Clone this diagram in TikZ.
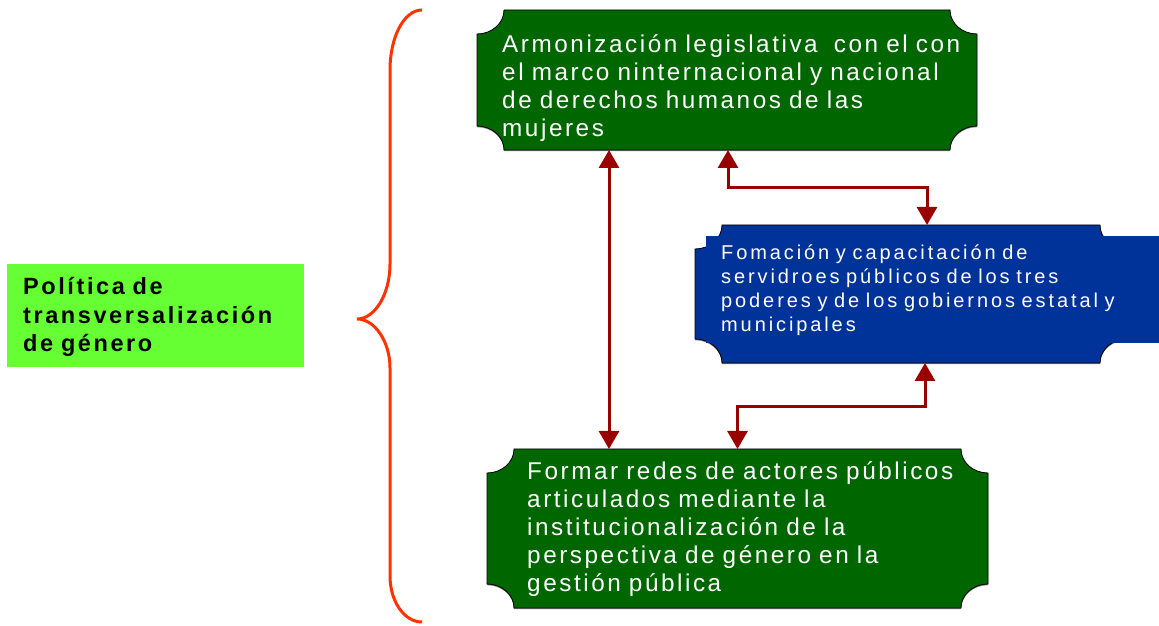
\documentclass[tikz,border=0pt]{standalone}
\usepackage{fontspec}
\usetikzlibrary{arrows.meta}
\setmainfont{Liberation Sans}
\newfontfamily\boxfont{Liberation Sans}[LetterSpace=10.5, WordSpace=1.4]
\newfontfamily\blueboxfont{Liberation Sans}[LetterSpace=14.5, WordSpace=1.4]
\newfontfamily\labelfont{Liberation Sans}[LetterSpace=11, WordSpace=1.4]

\definecolor{boxgreen}{HTML}{006600}
\definecolor{boxblue}{HTML}{003399}
\definecolor{labelgreen}{HTML}{66FF33}
\definecolor{bracered}{HTML}{FF3300}
\definecolor{arrowred}{HTML}{990000}

% plaque outline with concave corners round a named node
\newcommand{\plaquerx}{27pt}
\newcommand{\plaquery}{24pt}
\newcommand{\plaquepath}[1]{%
  ([xshift=\plaquerx]#1.north west) -- ([xshift=-\plaquerx]#1.north east)
  arc[start angle=180, end angle=270, x radius=\plaquerx, y radius=\plaquery]
  -- ([yshift=\plaquery]#1.south east)
  arc[start angle=90, end angle=180, x radius=\plaquerx, y radius=\plaquery]
  -- ([xshift=\plaquerx]#1.south west)
  arc[start angle=0, end angle=90, x radius=\plaquerx, y radius=\plaquery]
  -- ([yshift=-\plaquery]#1.north west)
  arc[start angle=270, end angle=360, x radius=\plaquerx, y radius=\plaquery]
  -- cycle}

\tikzset{
  boxnode/.style={rectangle, inner sep=0pt, outer sep=0pt},
  boxtext/.style={text=white, align=left, text width=480pt, inner sep=0pt, anchor=base west},
  conn/.style={arrowred, line width=3pt,
    {Triangle[width=20pt,length=18pt]}-{Triangle[width=20pt,length=18pt]}},
  brace/.style={bracered, line width=3pt}
}

\begin{document}
\begin{tikzpicture}[x=1pt, y=1pt]
    \useasboundingbox (0,0) rectangle (1159,626);

    % Boxes
    \node[boxnode, minimum width=500pt, minimum height=140pt] (armon) at (727,546) {};
    \node[boxnode, minimum width=432pt, minimum height=138pt] (forma) at (911,332) {};
    \node[boxnode, minimum width=501pt, minimum height=159pt] (redes) at (737.5,97.5) {};
    \node[boxnode, fill=labelgreen, minimum width=297pt, minimum height=103pt] (politica) at (155.5,310.5) {};

    \foreach \b/\c in {armon/boxgreen, forma/boxblue, redes/boxgreen} {
      \fill[gray, transform canvas={shift={(0pt,-1.2pt)}}] \plaquepath{\b};
      \filldraw[fill=\c, draw=black, line width=0.8pt] \plaquepath{\b};
    }
    \fill[boxblue] (706,390) rectangle (1159,283);

    % Texts
    \node[boxtext, font=\boxfont\fontsize{24.3}{28}\selectfont] (armon-text) at (502,573)
      {Armonización legislativa~ con el con\\ el marco ninternacional y nacional\\ de derechos humanos de las\\ mujeres};
    \node[boxtext, font=\blueboxfont\fontsize{20}{24}\selectfont] (forma-text) at (721,366)
      {Fomación y capacitación de\\ servidroes públicos de los tres\\ poderes y de los gobiernos estatal y\\ municipales};
    \node[boxtext, font=\boxfont\fontsize{24.3}{27.8}\selectfont] (redes-text) at (527,146)
      {Formar redes de actores públicos\\ articulados mediante la\\ institucionalización de la\\ perspectiva de género en la\\ gestión pública};
    \node[boxtext, text=black, font=\labelfont\bfseries\fontsize{23.5}{28.5}\selectfont] (politica-text) at (23,331)
      {Política de\\ transversalización\\ de género};

    % Brace
    \draw[brace] (422,616) .. controls (404,616) and (390,589) .. (390,556)
      -- (390,362) .. controls (390,332) and (375,307) .. (357,307)
      .. controls (375,307) and (390,284) .. (390,258)
      -- (390,50) .. controls (390,25) and (404,4) .. (422,4);

    % Connectors
    \draw[conn] ([xshift=-118pt]armon.south) -- ([xshift=-118pt]armon.south |- redes.north);
    \draw[conn] ([xshift=1pt]armon.south) -- ++(0,-38) -| ([xshift=16pt]forma.north);
    \draw[conn] ([xshift=14pt]forma.south) -- ++(0,-44) -| (redes.north);
  \end{tikzpicture}
\end{document}
